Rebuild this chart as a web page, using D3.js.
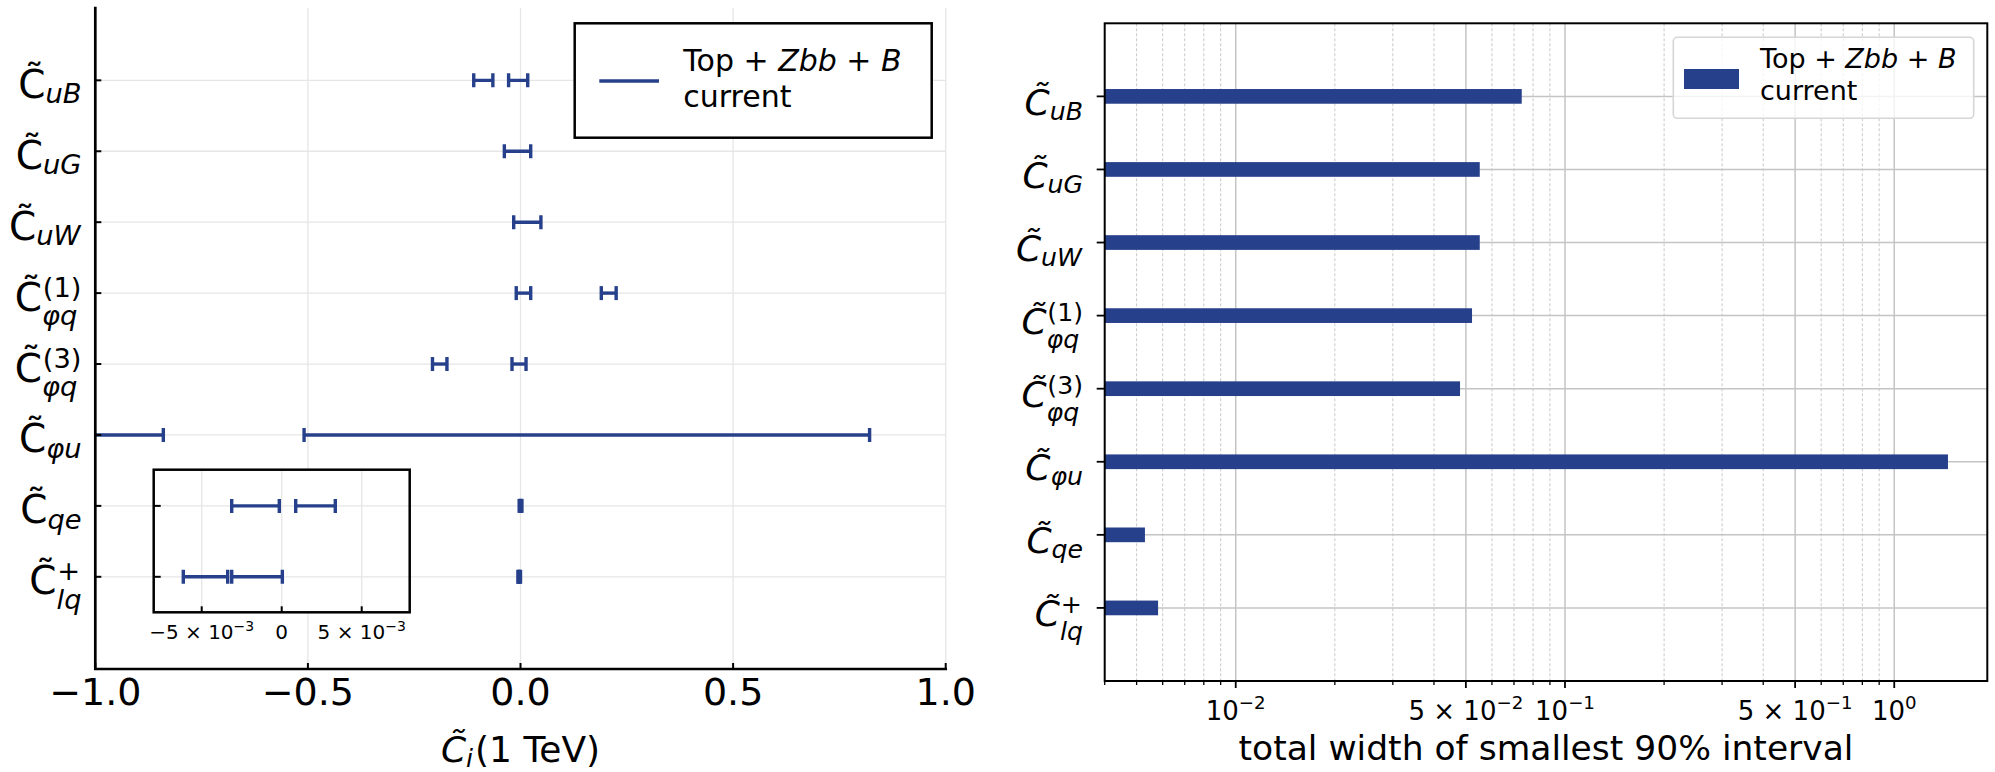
<!DOCTYPE html>
<html><head><meta charset="utf-8">
<script src="https://cdn.jsdelivr.net/npm/d3@7"></script>
<style>html,body{margin:0;padding:0;background:#fff;} svg{display:block;font-family:"DejaVu Sans";}</style>
</head><body>
<svg id="chart" width="1995" height="772"></svg>
<script>
// ---------------- data ----------------
const coeffSub = ["uB","uG","uW","φq","φq","φu","qe","lq"];
const coeffSup = ["","","","(1)","(3)","","","+"];
// smallest 90% intervals (possibly disjoint) per coefficient
const intervals = [
  [[-0.110,-0.065],[-0.028,0.017]],
  [[-0.038,0.024]],
  [[-0.016,0.048]],
  [[-0.010,0.024],[0.190,0.225]],
  [[-0.207,-0.173],[-0.020,0.013]],
  [[-1.05,-0.840],[-0.509,0.821]],
  [[-0.003125,-0.00015],[0.000875,0.00335]],
  [[-0.00615,-0.003375],[-0.003125,0.00004]]
];
const insetRows = [6,7];
const totalWidths = [0.0739,0.0551,0.0551,0.0522,0.0480,1.456,0.00530,0.00581];
const leftXTicks = [-1,-0.5,0,0.5,1];
const leftXTickLabels = ["−1.0","−0.5","0.0","0.5","1.0"];
const insetXTicks = [-0.005,0,0.005];
const insetXTickMant = ["−5 × 10","0","5 × 10"];
const insetXTickExp = ["−3","","−3"];
const rightXTicks = [0.01,0.05,0.1,0.5,1];
const rightXTickMant = ["10","5 × 10","10","5 × 10","10"];
const rightXTickExp = ["−2","−2","−1","−1","0"];
const legendMain = ["Top + ","Zbb"," + ","B"];
const legendSub = "current";
const rightXLabel = "total width of smallest 90% interval";

// ---------------- setup ----------------
const svg = d3.select("#chart");
const COLOR = "#27408B";
const n = coeffSub.length;

const xL = d3.scaleLinear().domain([-1,1]).range([95.3,945.7]);
const yL = d3.scaleLinear().domain([-1.02,8.3]).range([8,669]);
const xI = d3.scaleLinear().domain([-0.008,0.008]).range([153.7,409.7]);
const insetY = [469.7,612.3];
const xR = d3.scaleLog().domain([4.0e-3,1.917]).range([1104.7,1987.3]);
const yR = d3.scaleLinear().domain([-1,8]).range([23.3,681]);

// one <text> per label: base C-tilde, then stacked superscript / subscript tspans
function coeffLabel(g, i, xRight, baseline, fs, italic) {
  const t = g.append("text").attr("font-size", fs);
  const base = t.append("tspan").attr("x",0).attr("y",0)
    .attr("font-style", italic ? "italic" : "normal").text("C\u0303");
  const w = base.node().getComputedTextLength();
  const sfs = fs*0.7;
  const sup = coeffSup[i], sub = coeffSub[i];
  if (sup) t.append("tspan").attr("x", w + fs*0.02).attr("y", -fs*0.36)
      .attr("font-size", sfs).attr("font-style","normal").text(sup);
  if (sub) t.append("tspan").attr("x", w).attr("y", sup ? fs*0.38 : fs*0.14)
      .attr("font-size", sfs).attr("font-style","italic").text(sub);
  const bb = t.node().getBBox();
  t.attr("transform", `translate(${xRight-(bb.x+bb.width)},${baseline})`);
}

function drawErr(g, x, y, lo, hi) {
  const e = g.append("g").attr("stroke", COLOR).attr("stroke-width", 3.4);
  e.append("line").attr("x1", x(lo)).attr("x2", x(hi)).attr("y1", y).attr("y2", y);
  [lo,hi].forEach(v => e.append("line").attr("x1", x(v)).attr("x2", x(v)).attr("y1", y-7).attr("y2", y+7));
}

function sciLabel(g, x, y, mant, exp, fs) {
  const t = g.append("text").attr("x", x).attr("y", y).attr("font-size", fs).attr("text-anchor","middle");
  t.append("tspan").text(mant);
  if (exp) t.append("tspan").attr("dy", -fs*0.42).attr("font-size", fs*0.7).text(exp);
}

// ---------------- left panel ----------------
const gL = svg.append("g");
const defs = svg.append("defs");
defs.append("clipPath").attr("id","clipL").append("rect")
  .attr("x", xL(-1)).attr("y", yL.range()[0]).attr("width", xL(1)-xL(-1)).attr("height", yL.range()[1]-yL.range()[0]);
defs.append("clipPath").attr("id","clipI").append("rect")
  .attr("x", xI.range()[0]).attr("y", insetY[0]).attr("width", xI.range()[1]-xI.range()[0]).attr("height", insetY[1]-insetY[0]);

gL.selectAll("line.vg").data(leftXTicks).join("line").attr("class","vg")
  .attr("x1", d=>xL(d)).attr("x2", d=>xL(d)).attr("y1", yL.range()[0]).attr("y2", yL.range()[1])
  .attr("stroke","#e6e6e6").attr("stroke-width",1.3);
gL.selectAll("line.hg").data(d3.range(n)).join("line").attr("class","hg")
  .attr("x1", xL(-1)).attr("x2", xL(1)).attr("y1", d=>yL(d)).attr("y2", d=>yL(d))
  .attr("stroke","#e6e6e6").attr("stroke-width",1.3);

const gErr = gL.append("g").attr("clip-path","url(#clipL)");
intervals.forEach((iv, i) => iv.forEach(([lo,hi]) => drawErr(gErr, xL, yL(i), lo, hi)));

// legend (left)
const lg = gL.append("g");
lg.append("rect").attr("x",574.7).attr("y",23.3).attr("width",357).attr("height",114.4)
  .attr("fill","#fff").attr("stroke","#000").attr("stroke-width",2.5);
lg.append("line").attr("x1",599.3).attr("x2",659).attr("y1",81).attr("y2",81)
  .attr("stroke",COLOR).attr("stroke-width",3.3);
const lt = lg.append("text").attr("x",683.3).attr("y",70.7).attr("font-size",30);
legendMain.forEach((s,k) => lt.append("tspan").attr("font-style", k%2 ? "italic" : "normal").text(s));
lg.append("text").attr("x",683.3).attr("y",107.3).attr("font-size",30).text(legendSub);

// inset
const gI = gL.append("g");
gI.append("rect").attr("x", xI.range()[0]).attr("y", insetY[0]).attr("width", xI.range()[1]-xI.range()[0])
  .attr("height", insetY[1]-insetY[0]).attr("fill","#fff");
gI.selectAll("line.ivg").data(insetXTicks).join("line").attr("class","ivg")
  .attr("x1", d=>xI(d)).attr("x2", d=>xI(d)).attr("y1", insetY[0]).attr("y2", insetY[1])
  .attr("stroke","#e6e6e6").attr("stroke-width",1.3);
gI.selectAll("line.ihg").data(insetRows).join("line").attr("class","ihg")
  .attr("x1", xI.range()[0]).attr("x2", xI.range()[1]).attr("y1", d=>yL(d)).attr("y2", d=>yL(d))
  .attr("stroke","#e6e6e6").attr("stroke-width",1.3);
const gIE = gI.append("g").attr("clip-path","url(#clipI)");
insetRows.forEach(i => intervals[i].forEach(([lo,hi]) => drawErr(gIE, xI, yL(i), lo, hi)));
gI.selectAll("line.ixt").data(insetXTicks).join("line").attr("class","ixt")
  .attr("x1", d=>xI(d)).attr("x2", d=>xI(d)).attr("y1", insetY[1]).attr("y2", insetY[1]-6)
  .attr("stroke","#000").attr("stroke-width",2);
gI.selectAll("line.iyt").data(insetRows).join("line").attr("class","iyt")
  .attr("x1", xI.range()[0]).attr("x2", xI.range()[0]+7).attr("y1", d=>yL(d)).attr("y2", d=>yL(d))
  .attr("stroke","#000").attr("stroke-width",2);
gI.append("rect").attr("x", xI.range()[0]).attr("y", insetY[0]).attr("width", xI.range()[1]-xI.range()[0])
  .attr("height", insetY[1]-insetY[0]).attr("fill","none").attr("stroke","#000").attr("stroke-width",2.5);
insetXTicks.forEach((t,k) => sciLabel(gI, xI(t), 639.3, insetXTickMant[k], insetXTickExp[k], 20));

// left ticks & spines
gL.selectAll("line.xt").data(leftXTicks).join("line").attr("class","xt")
  .attr("x1", d=>xL(d)).attr("x2", d=>xL(d)).attr("y1", 669).attr("y2", 663)
  .attr("stroke","#000").attr("stroke-width",2);
gL.selectAll("line.yt").data(d3.range(n)).join("line").attr("class","yt")
  .attr("x1", xL(-1)).attr("x2", xL(-1)+6).attr("y1", d=>yL(d)).attr("y2", d=>yL(d))
  .attr("stroke","#000").attr("stroke-width",2);
gL.append("path").attr("d", `M${xL(-1)},${yL.range()[0]}V669H${xL(1)}`)
  .attr("fill","none").attr("stroke","#000").attr("stroke-width",2.7).attr("stroke-linecap","square");
gL.selectAll("text.xtl").data(leftXTicks).join("text").attr("class","xtl")
  .attr("x", d=>xL(d)).attr("y", 705).attr("font-size",38).attr("text-anchor","middle")
  .text((d,k)=>leftXTickLabels[k]);
d3.range(n).forEach(i => coeffLabel(gL, i, 81.5, yL(i)+17.5, 39, false));

// left x label (single text element)
{
  const t = gL.append("text").attr("font-size",36);
  const c = t.append("tspan").attr("x",0).attr("y",0).attr("font-style","italic").text("C\u0303");
  const w = c.node().getComputedTextLength();
  const s = t.append("tspan").attr("x",w).attr("y",36*0.14).attr("font-size",36*0.7).attr("font-style","italic").text("i");
  const w2 = w + s.node().getComputedTextLength() + 2;
  t.append("tspan").attr("x",w2).attr("y",0).text("(1 TeV)");
  const bb = t.node().getBBox();
  t.attr("transform", `translate(${xL(0)-(bb.x+bb.width/2)},761.7)`);
}

// ---------------- right panel ----------------
const gR = svg.append("g");
const majorSet = new Set(rightXTicks.map(v=>+v.toPrecision(6)));
const minorTicks = xR.ticks().filter(v => !majorSet.has(+v.toPrecision(6)) && v >= xR.domain()[0] && v <= xR.domain()[1]);
gR.selectAll("line.mg").data(minorTicks).join("line").attr("class","mg")
  .attr("x1", d=>xR(d)).attr("x2", d=>xR(d)).attr("y1", yR.range()[0]).attr("y2", yR.range()[1])
  .attr("stroke","#c8c8c8").attr("stroke-width",1).attr("stroke-dasharray","3,2");
gR.selectAll("line.Mg").data(rightXTicks).join("line").attr("class","Mg")
  .attr("x1", d=>xR(d)).attr("x2", d=>xR(d)).attr("y1", yR.range()[0]).attr("y2", yR.range()[1])
  .attr("stroke","#c4c4c4").attr("stroke-width",1.5);
gR.selectAll("line.rhg").data(d3.range(n)).join("line").attr("class","rhg")
  .attr("x1", xR.range()[0]).attr("x2", xR.range()[1]).attr("y1", d=>yR(d)).attr("y2", d=>yR(d))
  .attr("stroke","#c4c4c4").attr("stroke-width",1.5);

gR.selectAll("rect.bar").data(totalWidths).join("rect").attr("class","bar")
  .attr("x", xR.range()[0]).attr("y", (d,i)=>yR(i)-7.35).attr("height",14.7)
  .attr("width", d=>xR(d)-xR.range()[0]).attr("fill",COLOR);

// legend (right)
const rg = gR.append("g");
rg.append("rect").attr("x",1673.3).attr("y",37.3).attr("width",300.4).attr("height",81).attr("rx",4)
  .attr("fill","#fff").attr("fill-opacity",0.8).attr("stroke","#d6d6d6").attr("stroke-width",1.6);
rg.append("rect").attr("x",1684).attr("y",69).attr("width",55).attr("height",20).attr("fill",COLOR);
const rt = rg.append("text").attr("x",1760).attr("y",68.3).attr("font-size",27);
legendMain.forEach((s,k) => rt.append("tspan").attr("font-style", k%2 ? "italic" : "normal").text(s));
rg.append("text").attr("x",1760).attr("y",100).attr("font-size",27).text(legendSub);

// spines & ticks
gR.append("rect").attr("x", xR.range()[0]).attr("y", yR.range()[0]).attr("width", xR.range()[1]-xR.range()[0])
  .attr("height", yR.range()[1]-yR.range()[0]).attr("fill","none").attr("stroke","#000").attr("stroke-width",2);
gR.selectAll("line.rmt").data(minorTicks).join("line").attr("class","rmt")
  .attr("x1", d=>xR(d)).attr("x2", d=>xR(d)).attr("y1", 681).attr("y2", 685)
  .attr("stroke","#000").attr("stroke-width",1.3);
gR.selectAll("line.rMt").data(rightXTicks).join("line").attr("class","rMt")
  .attr("x1", d=>xR(d)).attr("x2", d=>xR(d)).attr("y1", 681).attr("y2", 688)
  .attr("stroke","#000").attr("stroke-width",1.8);
gR.selectAll("line.ryt").data(d3.range(n)).join("line").attr("class","ryt")
  .attr("x1", xR.range()[0]).attr("x2", xR.range()[0]-8).attr("y1", d=>yR(d)).attr("y2", d=>yR(d))
  .attr("stroke","#000").attr("stroke-width",1.8);
rightXTicks.forEach((t,k) => sciLabel(gR, xR(t), 720, rightXTickMant[k], rightXTickExp[k], 26));
d3.range(n).forEach(i => coeffLabel(gR, i, 1083, yR(i)+18.5, 36, true));
gR.append("text").attr("x", (xR.range()[0]+xR.range()[1])/2).attr("y",760).attr("font-size",34.5)
  .attr("text-anchor","middle").text(rightXLabel);
</script>
</body></html>
